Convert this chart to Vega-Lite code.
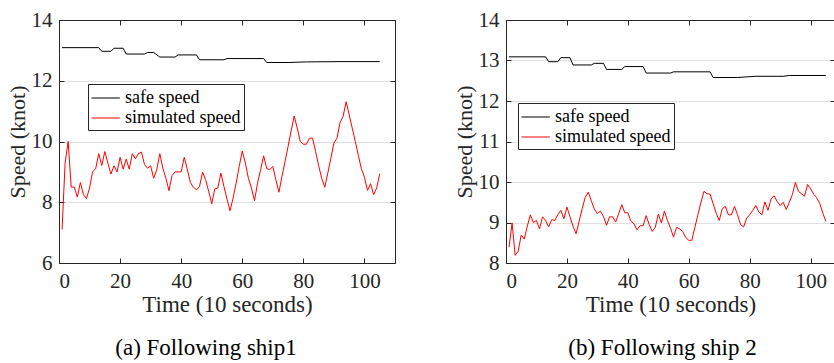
{
  "$schema": "https://vega.github.io/schema/vega-lite/v6.json",
  "padding": {"left": 5, "top": 8, "right": 0, "bottom": 0},
  "background": "white",
  "spacing": 56,
  "datasets": {
    "a": [
      {"t":1,"v":13.09,"s":"safe speed"},{"t":13,"v":13.09,"s":"safe speed"},{"t":14,"v":12.97,"s":"safe speed"},{"t":17,"v":12.97,"s":"safe speed"},{"t":18,"v":13.07,"s":"safe speed"},{"t":21,"v":13.07,"s":"safe speed"},{"t":22,"v":12.88,"s":"safe speed"},{"t":28,"v":12.88,"s":"safe speed"},{"t":29,"v":12.93,"s":"safe speed"},{"t":31,"v":12.93,"s":"safe speed"},{"t":33,"v":12.78,"s":"safe speed"},{"t":38,"v":12.78,"s":"safe speed"},{"t":39,"v":12.85,"s":"safe speed"},{"t":45,"v":12.85,"s":"safe speed"},{"t":46,"v":12.69,"s":"safe speed"},{"t":54,"v":12.69,"s":"safe speed"},{"t":55,"v":12.73,"s":"safe speed"},{"t":67,"v":12.73,"s":"safe speed"},{"t":68,"v":12.6,"s":"safe speed"},{"t":75,"v":12.6,"s":"safe speed"},{"t":81,"v":12.62,"s":"safe speed"},{"t":92,"v":12.63,"s":"safe speed"},{"t":105,"v":12.63,"s":"safe speed"},
      {"t":1,"v":7.1,"s":"simulated speed"},{"t":2,"v":9.29,"s":"simulated speed"},{"t":3,"v":10.0,"s":"simulated speed"},{"t":4,"v":8.5,"s":"simulated speed"},{"t":5,"v":8.5,"s":"simulated speed"},{"t":6,"v":8.17,"s":"simulated speed"},{"t":7,"v":8.65,"s":"simulated speed"},{"t":8,"v":8.25,"s":"simulated speed"},{"t":9,"v":8.12,"s":"simulated speed"},{"t":10,"v":8.47,"s":"simulated speed"},
      {"t":11,"v":9.01,"s":"simulated speed"},{"t":12,"v":9.1,"s":"simulated speed"},{"t":13,"v":9.6,"s":"simulated speed"},{"t":14,"v":9.21,"s":"simulated speed"},{"t":15,"v":9.67,"s":"simulated speed"},{"t":16,"v":9.29,"s":"simulated speed"},{"t":17,"v":8.93,"s":"simulated speed"},{"t":18,"v":9.2,"s":"simulated speed"},{"t":19,"v":9.0,"s":"simulated speed"},{"t":20,"v":9.48,"s":"simulated speed"},
      {"t":21,"v":9.09,"s":"simulated speed"},{"t":22,"v":9.42,"s":"simulated speed"},{"t":23,"v":9.09,"s":"simulated speed"},{"t":24,"v":9.6,"s":"simulated speed"},{"t":25,"v":9.43,"s":"simulated speed"},{"t":26,"v":9.6,"s":"simulated speed"},{"t":27,"v":9.65,"s":"simulated speed"},{"t":28,"v":9.24,"s":"simulated speed"},{"t":29,"v":9.12,"s":"simulated speed"},{"t":30,"v":9.2,"s":"simulated speed"},
      {"t":31,"v":8.79,"s":"simulated speed"},{"t":32,"v":9.07,"s":"simulated speed"},{"t":33,"v":9.6,"s":"simulated speed"},{"t":34,"v":9.12,"s":"simulated speed"},{"t":35,"v":8.79,"s":"simulated speed"},{"t":36,"v":8.38,"s":"simulated speed"},{"t":37,"v":8.88,"s":"simulated speed"},{"t":38,"v":9.0,"s":"simulated speed"},{"t":39,"v":9.0,"s":"simulated speed"},{"t":40,"v":9.0,"s":"simulated speed"},
      {"t":41,"v":9.48,"s":"simulated speed"},{"t":42,"v":9.09,"s":"simulated speed"},{"t":43,"v":8.65,"s":"simulated speed"},{"t":44,"v":8.49,"s":"simulated speed"},{"t":45,"v":8.41,"s":"simulated speed"},{"t":46,"v":8.52,"s":"simulated speed"},{"t":47,"v":8.99,"s":"simulated speed"},{"t":48,"v":8.74,"s":"simulated speed"},{"t":49,"v":8.36,"s":"simulated speed"},{"t":50,"v":7.95,"s":"simulated speed"},
      {"t":51,"v":8.44,"s":"simulated speed"},{"t":52,"v":8.47,"s":"simulated speed"},{"t":53,"v":8.96,"s":"simulated speed"},{"t":54,"v":8.52,"s":"simulated speed"},{"t":55,"v":8.1,"s":"simulated speed"},{"t":56,"v":7.72,"s":"simulated speed"},{"t":57,"v":8.14,"s":"simulated speed"},{"t":58,"v":8.63,"s":"simulated speed"},{"t":59,"v":9.18,"s":"simulated speed"},{"t":60,"v":9.69,"s":"simulated speed"},
      {"t":61,"v":9.29,"s":"simulated speed"},{"t":62,"v":8.79,"s":"simulated speed"},{"t":63,"v":8.47,"s":"simulated speed"},{"t":64,"v":8.05,"s":"simulated speed"},{"t":65,"v":8.63,"s":"simulated speed"},{"t":66,"v":9.07,"s":"simulated speed"},{"t":67,"v":9.53,"s":"simulated speed"},{"t":68,"v":9.11,"s":"simulated speed"},{"t":69,"v":9.07,"s":"simulated speed"},{"t":70,"v":9.18,"s":"simulated speed"},
      {"t":71,"v":8.74,"s":"simulated speed"},{"t":72,"v":8.33,"s":"simulated speed"},{"t":73,"v":8.85,"s":"simulated speed"},{"t":74,"v":9.34,"s":"simulated speed"},{"t":75,"v":9.84,"s":"simulated speed"},{"t":76,"v":10.35,"s":"simulated speed"},{"t":77,"v":10.84,"s":"simulated speed"},{"t":78,"v":10.44,"s":"simulated speed"},{"t":79,"v":10.0,"s":"simulated speed"},{"t":80,"v":9.91,"s":"simulated speed"},
      {"t":81,"v":9.91,"s":"simulated speed"},{"t":82,"v":10.11,"s":"simulated speed"},{"t":83,"v":10.11,"s":"simulated speed"},{"t":84,"v":9.67,"s":"simulated speed"},{"t":85,"v":9.21,"s":"simulated speed"},{"t":86,"v":8.79,"s":"simulated speed"},{"t":87,"v":8.49,"s":"simulated speed"},{"t":88,"v":8.96,"s":"simulated speed"},{"t":89,"v":9.45,"s":"simulated speed"},{"t":90,"v":9.95,"s":"simulated speed"},
      {"t":91,"v":10.11,"s":"simulated speed"},{"t":92,"v":10.62,"s":"simulated speed"},{"t":93,"v":10.82,"s":"simulated speed"},{"t":94,"v":11.31,"s":"simulated speed"},{"t":95,"v":10.88,"s":"simulated speed"},{"t":96,"v":10.44,"s":"simulated speed"},{"t":97,"v":10.0,"s":"simulated speed"},{"t":98,"v":9.54,"s":"simulated speed"},{"t":99,"v":9.1,"s":"simulated speed"},{"t":100,"v":8.82,"s":"simulated speed"},
      {"t":101,"v":8.39,"s":"simulated speed"},{"t":102,"v":8.61,"s":"simulated speed"},{"t":103,"v":8.25,"s":"simulated speed"},{"t":104,"v":8.47,"s":"simulated speed"},{"t":105,"v":8.94,"s":"simulated speed"}
    ],
    "b": [
      {"t":1,"v":13.09,"s":"safe speed"},{"t":13,"v":13.09,"s":"safe speed"},{"t":14,"v":12.97,"s":"safe speed"},{"t":17,"v":12.97,"s":"safe speed"},{"t":18,"v":13.07,"s":"safe speed"},{"t":21,"v":13.07,"s":"safe speed"},{"t":22,"v":12.89,"s":"safe speed"},{"t":28,"v":12.89,"s":"safe speed"},{"t":29,"v":12.93,"s":"safe speed"},{"t":32,"v":12.93,"s":"safe speed"},{"t":33,"v":12.78,"s":"safe speed"},{"t":38,"v":12.78,"s":"safe speed"},{"t":39,"v":12.85,"s":"safe speed"},{"t":45,"v":12.85,"s":"safe speed"},{"t":46,"v":12.69,"s":"safe speed"},{"t":54,"v":12.69,"s":"safe speed"},{"t":55,"v":12.72,"s":"safe speed"},{"t":67,"v":12.72,"s":"safe speed"},{"t":68,"v":12.58,"s":"safe speed"},{"t":76,"v":12.58,"s":"safe speed"},{"t":82,"v":12.61,"s":"safe speed"},{"t":91,"v":12.61,"s":"safe speed"},{"t":93,"v":12.63,"s":"safe speed"},{"t":105,"v":12.63,"s":"safe speed"},
      {"t":1,"v":8.39,"s":"simulated speed"},{"t":2,"v":8.99,"s":"simulated speed"},{"t":3,"v":8.19,"s":"simulated speed"},{"t":4,"v":8.29,"s":"simulated speed"},{"t":5,"v":8.69,"s":"simulated speed"},{"t":6,"v":8.59,"s":"simulated speed"},{"t":7,"v":8.91,"s":"simulated speed"},{"t":8,"v":9.19,"s":"simulated speed"},{"t":9,"v":9.0,"s":"simulated speed"},{"t":10,"v":9.05,"s":"simulated speed"},
      {"t":11,"v":8.84,"s":"simulated speed"},{"t":12,"v":9.14,"s":"simulated speed"},{"t":13,"v":9.05,"s":"simulated speed"},{"t":14,"v":8.89,"s":"simulated speed"},{"t":15,"v":9.07,"s":"simulated speed"},{"t":16,"v":9.05,"s":"simulated speed"},{"t":17,"v":9.19,"s":"simulated speed"},{"t":18,"v":9.3,"s":"simulated speed"},{"t":19,"v":9.09,"s":"simulated speed"},{"t":20,"v":9.38,"s":"simulated speed"},
      {"t":21,"v":9.14,"s":"simulated speed"},{"t":22,"v":8.91,"s":"simulated speed"},{"t":23,"v":8.72,"s":"simulated speed"},{"t":24,"v":9.03,"s":"simulated speed"},{"t":25,"v":9.34,"s":"simulated speed"},{"t":26,"v":9.62,"s":"simulated speed"},{"t":27,"v":9.75,"s":"simulated speed"},{"t":28,"v":9.54,"s":"simulated speed"},{"t":29,"v":9.33,"s":"simulated speed"},{"t":30,"v":9.22,"s":"simulated speed"},
      {"t":31,"v":9.28,"s":"simulated speed"},{"t":32,"v":9.15,"s":"simulated speed"},{"t":33,"v":8.93,"s":"simulated speed"},{"t":34,"v":9.14,"s":"simulated speed"},{"t":35,"v":9.14,"s":"simulated speed"},{"t":36,"v":9.01,"s":"simulated speed"},{"t":37,"v":9.22,"s":"simulated speed"},{"t":38,"v":9.44,"s":"simulated speed"},{"t":39,"v":9.24,"s":"simulated speed"},{"t":40,"v":9.24,"s":"simulated speed"},
      {"t":41,"v":9.03,"s":"simulated speed"},{"t":42,"v":8.97,"s":"simulated speed"},{"t":43,"v":8.82,"s":"simulated speed"},{"t":44,"v":8.92,"s":"simulated speed"},{"t":45,"v":8.92,"s":"simulated speed"},{"t":46,"v":9.17,"s":"simulated speed"},{"t":47,"v":8.95,"s":"simulated speed"},{"t":48,"v":8.78,"s":"simulated speed"},{"t":49,"v":8.88,"s":"simulated speed"},{"t":50,"v":9.21,"s":"simulated speed"},
      {"t":51,"v":8.99,"s":"simulated speed"},{"t":52,"v":9.28,"s":"simulated speed"},{"t":53,"v":9.05,"s":"simulated speed"},{"t":54,"v":8.86,"s":"simulated speed"},{"t":55,"v":8.64,"s":"simulated speed"},{"t":56,"v":8.88,"s":"simulated speed"},{"t":57,"v":8.84,"s":"simulated speed"},{"t":58,"v":8.78,"s":"simulated speed"},{"t":59,"v":8.63,"s":"simulated speed"},{"t":60,"v":8.56,"s":"simulated speed"},
      {"t":61,"v":8.56,"s":"simulated speed"},{"t":62,"v":8.88,"s":"simulated speed"},{"t":63,"v":9.19,"s":"simulated speed"},{"t":64,"v":9.5,"s":"simulated speed"},{"t":65,"v":9.77,"s":"simulated speed"},{"t":66,"v":9.71,"s":"simulated speed"},{"t":67,"v":9.7,"s":"simulated speed"},{"t":68,"v":9.46,"s":"simulated speed"},{"t":69,"v":9.23,"s":"simulated speed"},{"t":70,"v":9.05,"s":"simulated speed"},
      {"t":71,"v":9.34,"s":"simulated speed"},{"t":72,"v":9.4,"s":"simulated speed"},{"t":73,"v":9.19,"s":"simulated speed"},{"t":74,"v":9.19,"s":"simulated speed"},{"t":75,"v":9.4,"s":"simulated speed"},{"t":76,"v":9.19,"s":"simulated speed"},{"t":77,"v":8.95,"s":"simulated speed"},{"t":78,"v":8.89,"s":"simulated speed"},{"t":79,"v":9.11,"s":"simulated speed"},{"t":80,"v":9.19,"s":"simulated speed"},
      {"t":81,"v":9.3,"s":"simulated speed"},{"t":82,"v":9.42,"s":"simulated speed"},{"t":83,"v":9.26,"s":"simulated speed"},{"t":84,"v":9.19,"s":"simulated speed"},{"t":85,"v":9.51,"s":"simulated speed"},{"t":86,"v":9.3,"s":"simulated speed"},{"t":87,"v":9.58,"s":"simulated speed"},{"t":88,"v":9.66,"s":"simulated speed"},{"t":89,"v":9.52,"s":"simulated speed"},{"t":90,"v":9.42,"s":"simulated speed"},
      {"t":91,"v":9.5,"s":"simulated speed"},{"t":92,"v":9.32,"s":"simulated speed"},{"t":93,"v":9.5,"s":"simulated speed"},{"t":94,"v":9.69,"s":"simulated speed"},{"t":95,"v":9.99,"s":"simulated speed"},{"t":96,"v":9.77,"s":"simulated speed"},{"t":97,"v":9.71,"s":"simulated speed"},{"t":98,"v":9.65,"s":"simulated speed"},{"t":99,"v":9.94,"s":"simulated speed"},{"t":100,"v":9.83,"s":"simulated speed"},
      {"t":101,"v":9.7,"s":"simulated speed"},{"t":102,"v":9.61,"s":"simulated speed"},{"t":103,"v":9.47,"s":"simulated speed"},{"t":104,"v":9.23,"s":"simulated speed"},{"t":105,"v":9.03,"s":"simulated speed"}
    ]
  },
  "resolve": {"scale": {"color": "independent"}, "legend": {"color": "independent"}},
  "hconcat": [
    {
      "width": 336,
      "height": 243,
      "data": {"name": "a"},
      "title": {"text": "(a) Following ship1", "orient": "bottom", "offset": 21, "dx": -21, "font": "Liberation Serif", "fontSize": 23, "fontWeight": "normal", "color": "#000000"},
      "layer": [
        {
          "mark": {"type": "line", "strokeWidth": 1},
          "encoding": {
            "x": {"field": "t", "type": "quantitative", "scale": {"domain": [0, 110], "nice": false},
                  "axis": {"values": [0, 20, 40, 60, 80, 100], "title": "Time (10 seconds)", "grid": false, "labelFont": "Liberation Serif", "titleFont": "Liberation Serif"}},
            "y": {"field": "v", "type": "quantitative", "scale": {"domain": [6, 14], "nice": false, "zero": false},
                  "axis": {"values": [6, 8, 10, 12, 14], "title": "Speed (knot)", "grid": true, "titleFontSize": 22, "labelFont": "Liberation Serif", "titleFont": "Liberation Serif"}},
            "color": {"field": "s", "type": "nominal",
                      "scale": {"domain": ["safe speed", "simulated speed"], "range": ["#000000", "#ff0000"]},
                      "legend": {"orient": "none", "legendX": 29, "legendY": 64, "labelFont": "Liberation Serif"}}
          }
        },
        {
          "mark": {"type": "line", "opacity": 0},
          "encoding": {
            "x": {"field": "t", "type": "quantitative", "axis": {"orient": "top", "values": [0, 20, 40, 60, 80, 100], "labels": false, "title": null, "grid": false}},
            "y": {"field": "v", "type": "quantitative", "axis": {"orient": "right", "values": [6, 8, 10, 12, 14], "labels": false, "title": null, "grid": false}},
            "detail": {"field": "s"}
          }
        }
      ],
      "resolve": {"axis": {"x": "independent", "y": "independent"}}
    },
    {
      "width": 329,
      "height": 243,
      "data": {"name": "b"},
      "title": {"text": "(b) Following ship 2", "orient": "bottom", "offset": 21, "dx": -8, "font": "Liberation Serif", "fontSize": 23, "fontWeight": "normal", "color": "#000000"},
      "layer": [
        {
          "mark": {"type": "line", "strokeWidth": 1},
          "encoding": {
            "x": {"field": "t", "type": "quantitative", "scale": {"domain": [0, 108], "nice": false},
                  "axis": {"values": [0, 20, 40, 60, 80, 100], "title": "Time (10 seconds)", "grid": false, "labelFont": "Liberation Serif", "titleFont": "Liberation Serif"}},
            "y": {"field": "v", "type": "quantitative", "scale": {"domain": [8, 14], "nice": false, "zero": false},
                  "axis": {"values": [8, 9, 10, 11, 12, 13, 14], "title": "Speed (knot)", "grid": true, "titleFontSize": 22, "labelFont": "Liberation Serif", "titleFont": "Liberation Serif"}},
            "color": {"field": "s", "type": "nominal",
                      "scale": {"domain": ["safe speed", "simulated speed"], "range": ["#000000", "#ff0000"]},
                      "legend": {"orient": "none", "legendX": 12, "legendY": 83, "labelFont": "Liberation Serif"}}
          }
        },
        {
          "mark": {"type": "line", "opacity": 0},
          "encoding": {
            "x": {"field": "t", "type": "quantitative", "axis": {"orient": "top", "values": [0, 20, 40, 60, 80, 100], "labels": false, "title": null, "grid": false}},
            "y": {"field": "v", "type": "quantitative", "axis": {"orient": "right", "values": [8, 9, 10, 11, 12, 13, 14], "labels": false, "title": null, "grid": false}},
            "detail": {"field": "s"}
          }
        }
      ],
      "resolve": {"axis": {"x": "independent", "y": "independent"}}
    }
  ],
  "config": {
    "font": "Liberation Serif",
    "view": {"stroke": "#262626", "strokeWidth": 1},
    "style": {
      "guide-label": {"font": "Liberation Serif"},
      "guide-title": {"font": "Liberation Serif"},
      "group-title": {"font": "Liberation Serif"}
    },
    "axis": {
      "labelFont": "Liberation Serif", "labelFontSize": 21, "labelColor": "#262626",
      "titleFont": "Liberation Serif", "titleFontSize": 23, "titleFontWeight": "normal", "titleColor": "#262626",
      "domainColor": "#262626", "tickColor": "#262626", "tickSize": -5, "labelPadding": 12, "titlePadding": 2,
      "gridColor": "#e0e0e0", "gridWidth": 1
    },
    "legend": {
      "title": null, "labelFont": "Liberation Serif", "labelFontSize": 18, "labelColor": "#000000",
      "symbolType": "M-1,0H1.7", "symbolSize": 441, "symbolStrokeWidth": 1, "labelOffset": 12,
      "strokeColor": "#262626", "fillColor": "#ffffff", "padding": 3, "rowPadding": 0, "labelLimit": 300
    },
    "title": {"font": "Liberation Serif", "fontSize": 23, "fontWeight": "normal", "color": "#000000", "anchor": "middle"}
  }
}
